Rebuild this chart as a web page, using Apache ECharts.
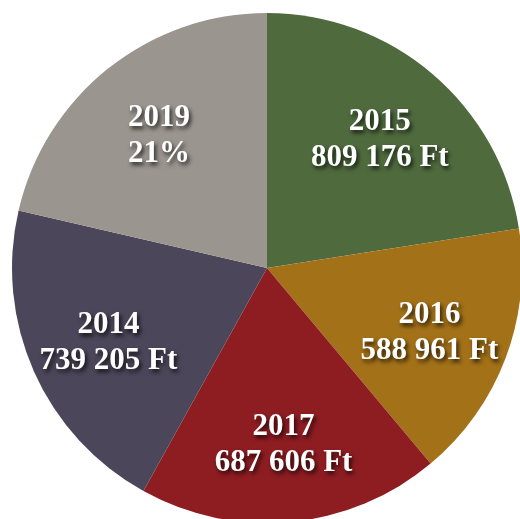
<!DOCTYPE html>
<html lang="hu">
<head>
	<meta charset="UTF-8">
	<title>Pie</title>
	<style>html,body{margin:0;padding:0;background:#fff;}</style>
</head>
<body>
<div id="chart" style="width:520px;height:519px;"></div>
<script src="https://cdn.jsdelivr.net/npm/echarts@6/dist/echarts.min.js"></script>
<script>
	var years = ['2015', '2016', '2017', '2014', '2019'];
	var values = [809176, 588961, 687606, 739205, 768000];
	var colors = ['#4f6b3e', '#a37118', '#8e1d22', '#4b4659', '#9b958f'];
	var percentOnly = ['2019']; // this slice shows percent instead of amount

	function fmtFt(v) {
		return String(v).replace(/\B(?=(\d{3})+(?!\d))/g, ' ') + ' Ft';
	}

	var data = years.map(function (y, i) {
		return { name: y, value: values[i], itemStyle: { color: colors[i] } };
	});

	var myChart = echarts.init(document.getElementById('chart'));
	var option = {
		animation: false,
		series: [
			{
				// the slices
				type: 'pie',
				center: [267, 268],
				radius: [0, 255],
				startAngle: 90,
				clockwise: true,
				silent: true,
				label: { show: false },
				labelLine: { show: false },
				data: data
			},
			{
				// transparent ring, only to put labels further out (a bit lower)
				type: 'pie',
				center: [267, 272],
				radius: [86, 255],
				startAngle: 90,
				clockwise: true,
				silent: true,
				itemStyle: { color: 'rgba(0,0,0,0)' },
				labelLine: { show: false },
				label: {
					show: true,
					position: 'inside',
					color: '#fff',
					fontFamily: 'Liberation Serif',
					fontWeight: 'bold',
					fontSize: 31,
					lineHeight: 36,
					textShadowColor: 'rgba(0,0,0,0.75)',
					textShadowBlur: 4,
					textShadowOffsetX: 2,
					textShadowOffsetY: 3,
					formatter: function (p) {
						if (percentOnly.indexOf(p.name) >= 0) {
							return p.name + '\n' + Math.round(p.percent) + '%';
						}
						return p.name + '\n' + fmtFt(p.value);
					}
				},
				data: years.map(function (y, i) { return { name: y, value: values[i] }; })
			}
		]
	};
	myChart.setOption(option);
</script>
</body>
</html>
